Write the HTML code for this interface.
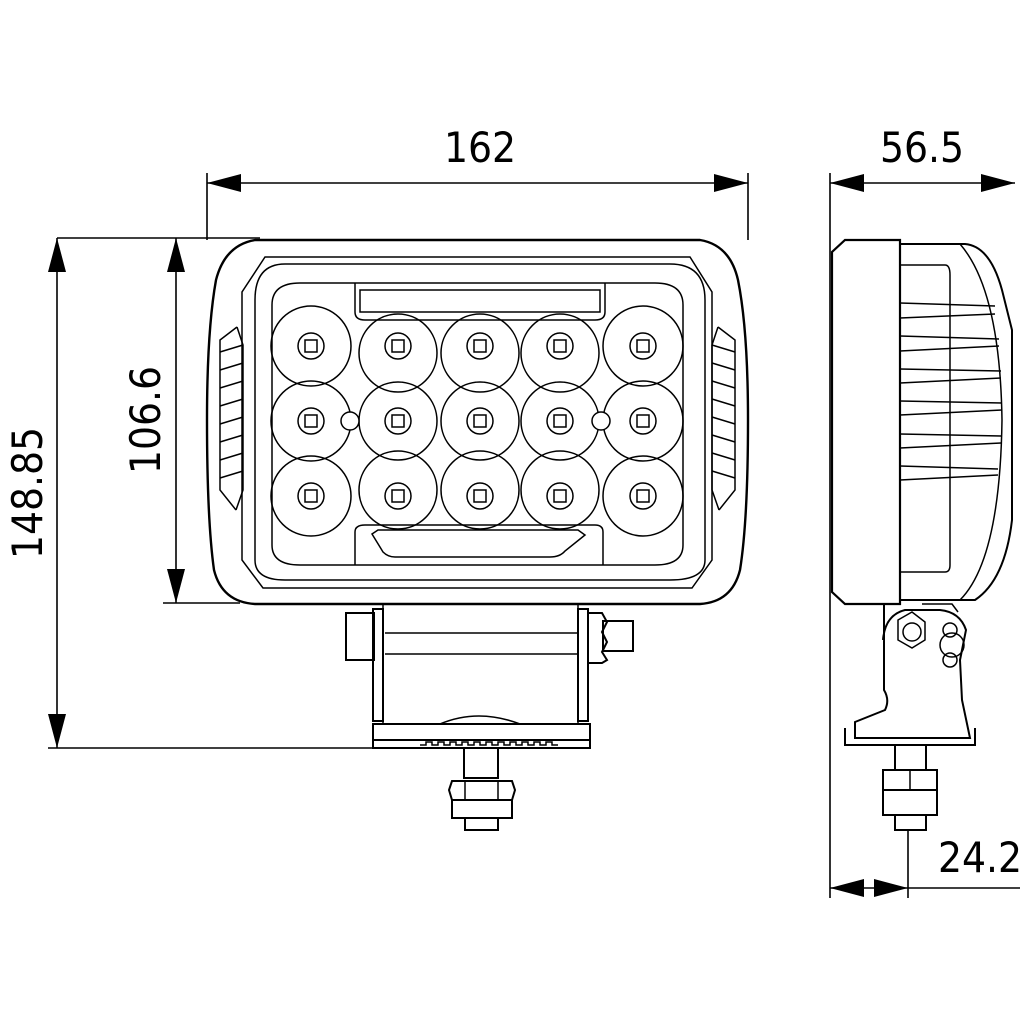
<!DOCTYPE html>
<html><head><style>
html,body{margin:0;padding:0;background:#fff;}
svg{display:block;}
text{font-family:"DejaVu Sans Condensed","Liberation Sans",sans-serif;font-size:42px;fill:#000;}
</style></head><body>
<svg width="1024" height="1024" viewBox="0 0 1024 1024" xmlns="http://www.w3.org/2000/svg">
<defs>
<marker id="a" viewBox="0 0 34 18" refX="34" refY="9" markerWidth="34" markerHeight="18" markerUnits="userSpaceOnUse" orient="auto-start-reverse"><path d="M34,9 L0,0 L0,18 Z" fill="#000"/></marker>
</defs>
<g stroke="#000" fill="none" stroke-width="1.6">
<line x1="207" y1="173" x2="207" y2="240"/>
<line x1="748" y1="173" x2="748" y2="240"/>
<line x1="207" y1="183" x2="748" y2="183" marker-start="url(#a)" marker-end="url(#a)"/>
<line x1="830" y1="173" x2="830" y2="898"/>
<line x1="830" y1="183" x2="1015" y2="183" marker-start="url(#a)" marker-end="url(#a)"/>
<line x1="57" y1="238" x2="260" y2="238"/>
<line x1="48" y1="748" x2="375" y2="748"/>
<line x1="57" y1="238" x2="57" y2="748" marker-start="url(#a)" marker-end="url(#a)"/>
<line x1="163" y1="603" x2="240" y2="603"/>
<line x1="176" y1="238" x2="176" y2="603" marker-start="url(#a)" marker-end="url(#a)"/>
<line x1="908" y1="830" x2="908" y2="898"/>
<line x1="830" y1="888" x2="908" y2="888" marker-start="url(#a)" marker-end="url(#a)"/>
<line x1="908" y1="888" x2="1020" y2="888"/>
</g>
<text x="480" y="162" text-anchor="middle">162</text>
<text x="922" y="162" text-anchor="middle">56.5</text>
<text x="980" y="872" text-anchor="middle">24.2</text>
<text transform="translate(42,493) rotate(-90)" text-anchor="middle">148.85</text>
<text transform="translate(160,420) rotate(-90)" text-anchor="middle">106.6</text>

<g stroke="#000" fill="none" stroke-width="1.5">
<path d="M255,240 L700,240 Q730,245 738,280 Q748,330 748,420 Q748,520 740,570 Q732,602 700,604 L255,604 Q222,602 214,570 Q207,520 207,420 Q207,330 216,280 Q225,245 255,240 Z" stroke-width="2.4"/>
<path d="M265,257 L690,257 L712,292 L712,560 L692,588 L263,588 L242,560 L242,292 Z"/>
<path d="M285,264 L670,264 Q705,264 705,300 L705,560 Q705,580 670,580 L285,580 Q255,580 255,560 L255,300 Q255,264 285,264 Z"/>
<path d="M300,283 L655,283 Q683,283 683,305 L683,545 Q683,565 655,565 L300,565 Q272,565 272,545 L272,305 Q272,283 300,283 Z"/>
<path d="M355,283 L355,312 Q355,320 365,320 L595,320 Q605,320 605,312 L605,283"/>
<rect x="360" y="290" width="240" height="22"/>
<path d="M355,565 L355,532 Q355,525 365,525 L595,525 Q603,525 603,532 L603,565"/>
<path d="M372,534 L378,530 L578,530 L585,535 L565,551 Q560,557 550,557 L395,557 Q388,557 383,552 Z"/>
<path d="M237,327 L220,340 L220,490 L236,510"/>
<path d="M237,327 L243,345 L243,490 L236,510"/>
<path d="M220,352 L243,345 M220,370 L243,363 M220,388 L243,381 M220,406 L243,399 M220,424 L243,417 M220,442 L243,435 M220,460 L243,453 M220,478 L243,471"/>
<path d="M718,327 L735,340 L735,490 L719,510"/>
<path d="M718,327 L712,345 L712,490 L719,510"/>
<path d="M735,352 L712,345 M735,370 L712,363 M735,388 L712,381 M735,406 L712,399 M735,424 L712,417 M735,442 L712,435 M735,460 L712,453 M735,478 L712,471"/>
<g>
<circle cx="311" cy="346" r="40"/><circle cx="398" cy="353" r="39"/><circle cx="480" cy="353" r="39"/><circle cx="560" cy="353" r="39"/><circle cx="643" cy="346" r="40"/>
<circle cx="311" cy="421" r="40"/><circle cx="398" cy="421" r="39"/><circle cx="480" cy="421" r="39"/><circle cx="560" cy="421" r="39"/><circle cx="643" cy="421" r="40"/>
<circle cx="311" cy="496" r="40"/><circle cx="398" cy="490" r="39"/><circle cx="480" cy="490" r="39"/><circle cx="560" cy="490" r="39"/><circle cx="643" cy="496" r="40"/>
</g>
<g fill="#fff">
<circle cx="311" cy="346" r="13"/><circle cx="398" cy="346" r="13"/><circle cx="480" cy="346" r="13"/><circle cx="560" cy="346" r="13"/><circle cx="643" cy="346" r="13"/>
<circle cx="311" cy="421" r="13"/><circle cx="398" cy="421" r="13"/><circle cx="480" cy="421" r="13"/><circle cx="560" cy="421" r="13"/><circle cx="643" cy="421" r="13"/>
<circle cx="311" cy="496" r="13"/><circle cx="398" cy="496" r="13"/><circle cx="480" cy="496" r="13"/><circle cx="560" cy="496" r="13"/><circle cx="643" cy="496" r="13"/>
<circle cx="350" cy="421" r="9"/><circle cx="601" cy="421" r="9"/>
</g>
<g>
<rect x="305" y="340" width="12" height="12"/><rect x="392" y="340" width="12" height="12"/><rect x="474" y="340" width="12" height="12"/><rect x="554" y="340" width="12" height="12"/><rect x="637" y="340" width="12" height="12"/>
<rect x="305" y="415" width="12" height="12"/><rect x="392" y="415" width="12" height="12"/><rect x="474" y="415" width="12" height="12"/><rect x="554" y="415" width="12" height="12"/><rect x="637" y="415" width="12" height="12"/>
<rect x="305" y="490" width="12" height="12"/><rect x="392" y="490" width="12" height="12"/><rect x="474" y="490" width="12" height="12"/><rect x="554" y="490" width="12" height="12"/><rect x="637" y="490" width="12" height="12"/>
</g>
<rect x="346" y="613" width="28" height="47" stroke-width="2"/>
<rect x="373" y="609" width="10" height="112" stroke-width="2"/>
<rect x="578" y="609" width="10" height="112" stroke-width="2"/>
<line x1="383" y1="605" x2="383" y2="725"/>
<line x1="578" y1="605" x2="578" y2="725"/>
<line x1="385" y1="633" x2="578" y2="633"/><line x1="385" y1="654" x2="578" y2="654"/>
<path d="M588,613 L602,613 L607,622 L602,632 L607,642 L602,652 L607,660 L602,663 L588,663 Z" stroke-width="2"/>
<rect x="603" y="621" width="30" height="30" stroke-width="2"/>
<rect x="373" y="724" width="217" height="16" stroke-width="2"/>
<path d="M373,740 L373,748 L590,748 L590,740" stroke-width="2"/>
<path d="M420,745 h6 v-3 h6 v3 h6 v-3 h6 v3 h6 v-3 h6 v3 h6 v-3 h6 v3 h6 v-3 h6 v3 h6 v-3 h6 v3 h6 v-3 h6 v3 h6 v-3 h6 v3 h6 v-3 h6 v3 h6 v-3 h6 v3 h6 v-3 h6 v3 h6"/>
<path d="M440,724 Q478,708 520,724"/>
<rect x="464" y="748" width="34" height="30" stroke-width="2"/>
<path d="M452,781 L512,781 L515,790 L512,800 L452,800 L449,790 Z" stroke-width="2"/>
<line x1="465" y1="781" x2="465" y2="800"/><line x1="498" y1="781" x2="498" y2="800"/>
<rect x="452" y="800" width="60" height="18" stroke-width="2"/>
<rect x="465" y="818" width="33" height="12" stroke-width="2"/>
<path d="M845,240 L900,240 L900,604 L845,604 L832,592 L832,252 Z" stroke-width="2.2"/>
<path d="M900,244 L965,244 Q990,246 1002,290 L1012,330 L1012,520 Q1005,580 975,600 L900,600" stroke-width="2"/>
<path d="M960,244 Q1000,290 1002,420 Q1000,560 960,600"/>
<path d="M900,265 L945,265 Q950,265 950,275 L950,565 Q950,572 945,572 L900,572"/>
<path d="M900,303 L995,306 M900,318 L995,314 M900,336 L999,339 M900,351 L999,346 M900,369 L1001,371 M900,383 L1001,378 M900,401 L1002,403 M900,415 L1002,410 M900,434 L1001,436 M900,448 L1001,443 M900,466 L998,469 M900,480 L998,475"/>
<path d="M922,604 L952,604 L958,612"/>
<path d="M884,604 L884,690 Q890,700 885,710 L855,722 L855,738 L970,738 L962,700 L960,660 L966,630 Q960,612 940,610 L905,610 Q885,615 883,640" stroke-width="2"/>
<path d="M845,728 L845,745 L975,745 L975,728" stroke-width="2"/>
<path d="M898,620 L912,612 L925,622 L925,640 L912,648 L898,640 Z"/>
<circle cx="912" cy="632" r="9"/>
<circle cx="950" cy="630" r="7"/><circle cx="950" cy="660" r="7"/><circle cx="952" cy="645" r="12"/>
<rect x="895" y="745" width="31" height="25" stroke-width="2"/>
<rect x="883" y="770" width="54" height="20" stroke-width="2"/>
<line x1="910" y1="770" x2="910" y2="790"/>
<rect x="883" y="790" width="54" height="25" stroke-width="2"/>
<rect x="895" y="815" width="31" height="15" stroke-width="2"/>
</g>
</svg>
</body></html>
